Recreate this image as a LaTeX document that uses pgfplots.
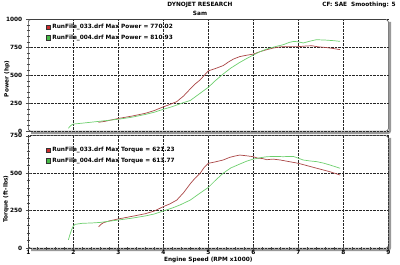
\documentclass[border=0pt]{standalone}
\usepackage{pgfplots}
\pgfplotsset{compat=1.18}
\usepackage{fontspec}
\setmainfont{DejaVu Sans}
\definecolor{runred}{RGB}{170,70,70}
\definecolor{rungreen}{RGB}{110,208,110}
\definecolor{sqred}{RGB}{205,45,45}
\definecolor{sqgreen}{RGB}{70,185,70}
\newcommand{\sz}{\fontsize{5.8}{6.5}\selectfont\bfseries}
\pgfplotsset{dyno/.style={
  scale only axis, width=360pt, xmin=1, xmax=9,
  axis line style={draw=none},
  tick pos=left, tick align=center,
  major tick length=5pt, minor tick length=3pt,
  every tick/.style={black!70, line width=0.4pt},
  grid=major, major grid style={densely dotted, black!85, line width=0.45pt},
  ticklabel style={font=\sz},
  /pgf/number format/assume math mode=true,
  /pgf/number format/1000 sep={},
  label style={font=\sz},
  legend style={draw=none, fill=none, font=\sz, inner sep=0pt, outer sep=0pt,
    row sep=0.6pt, legend cell align=left, anchor=north west, cells={anchor=west}},
},
redsq/.style={legend image code/.code={\draw[draw=black!80,fill=sqred,line width=0.4pt] (0pt,-2.2pt) rectangle (4pt,2.2pt);}},
greensq/.style={legend image code/.code={\draw[draw=black!80,fill=sqgreen,line width=0.4pt] (0pt,-2.2pt) rectangle (4pt,2.2pt);}}}
\begin{document}
\begin{tikzpicture}
\path[use as bounding box] (0pt,0pt) rectangle (400pt,265pt);
% shadows
\draw[black!40, line width=2.4pt, rounded corners=2.5pt] (390pt,243pt) -- (390pt,132pt) -- (31pt,132pt);
\draw[black!40, line width=2.4pt, rounded corners=2.5pt] (390pt,127pt) -- (390pt,15pt) -- (31pt,15pt);
\begin{axis}[dyno, at={(28.3pt,133.8pt)}, anchor=south west, height=111.7pt,
  ymin=0, ymax=1000, ytick={0,250,500,750,1000}, minor y tick num=4,
  xtick={2,...,8}, xticklabels={}, xtick style={/pgfplots/major tick length=0pt},
  ylabel={Power (hp)}, ylabel style={at={(axis description cs:-0.059,0.467)}, anchor=center},
  legend style={at={(axis description cs:0.049,0.975)}}]
\addplot[runred, line width=0.7pt, redsq] coordinates {
(2.56,80)(2.7,88)(3.0,114)(3.3,135)(3.6,160)(3.8,185)(4.0,218)(4.15,240)(4.3,265)(4.45,315)
(4.6,379)(4.7,420)(4.82,460)(5.0,540)(5.15,560)(5.33,587)(5.45,620)(5.56,646)(5.7,668)(5.85,680)
(6.0,690)(6.15,712)(6.3,730)(6.45,745)(6.6,755)(6.8,757)(7.0,757)(7.15,762)(7.3,765)(7.45,755)
(7.6,750)(7.75,742)(7.93,730)};
\addlegendentry{RunFile\_033.drf Max Power = 770.02}
\addplot[rungreen, line width=0.7pt, greensq] coordinates {
(1.89,26)(1.93,45)(1.97,58)(2.0,64)(2.2,72)(2.5,85)(2.8,98)(3.0,107)(3.3,125)(3.6,150)
(3.8,170)(4.0,196)(4.2,220)(4.44,255)(4.6,275)(4.82,340)(5.0,393)(5.15,450)(5.33,512)(5.5,565)
(5.7,616)(5.85,650)(6.0,682)(6.15,712)(6.3,736)(6.5,758)(6.67,775)(6.8,795)(6.9,804)(7.0,800)
(7.11,790)(7.25,805)(7.4,819)(7.6,816)(7.8,810)(7.93,804)};
\addlegendentry{RunFile\_004.drf Max Power = 810.93}
\end{axis}
\begin{axis}[dyno, at={(28.3pt,16.8pt)}, anchor=south west, height=112.5pt,
  ymin=0, ymax=750, ytick={0,250,500,750}, minor y tick num=4,
  xtick={1,...,9}, minor x tick num=4, xticklabel style={yshift=3.8pt},
  ylabel={Torque (ft-lbs)}, ylabel style={at={(axis description cs:-0.062,0.437)}, anchor=center},
  xlabel={Engine Speed (RPM x1000)}, xlabel style={at={(axis description cs:0.5,-0.105)}, anchor=center},
  legend style={at={(axis description cs:0.049,0.915)}}]
\addplot[runred, line width=0.7pt, redsq] coordinates {
(2.56,143)(2.62,160)(2.67,170)(2.8,182)(3.0,195)(3.3,212)(3.6,230)(3.8,248)(4.0,277)(4.15,296)
(4.3,321)(4.45,370)(4.6,430)(4.7,465)(4.82,500)(4.9,535)(5.0,566)(5.15,575)(5.33,588)(5.48,606)
(5.6,615)(5.7,621)(5.85,616)(6.0,610)(6.1,600)(6.2,598)(6.3,590)(6.44,594)(6.6,588)(6.8,577)
(7.0,566)(7.2,550)(7.41,533)(7.55,522)(7.7,510)(7.93,488)};
\addlegendentry{RunFile\_033.drf Max Torque = 621.23}
\addplot[rungreen, line width=0.7pt, greensq] coordinates {
(1.89,55)(1.93,95)(1.96,121)(2.0,148)(2.04,159)(2.2,166)(2.4,168)(2.6,172)(2.8,180)(3.0,188)
(3.3,200)(3.6,215)(3.8,228)(4.0,248)(4.2,268)(4.37,288)(4.6,321)(4.82,368)(5.0,405)(5.15,450)
(5.33,500)(5.5,535)(5.7,561)(5.85,580)(6.0,594)(6.15,603)(6.3,610)(6.5,612)(6.67,610)(6.8,612)
(6.9,611)(7.0,600)(7.11,588)(7.25,582)(7.41,577)(7.55,568)(7.7,555)(7.93,533)};
\addlegendentry{RunFile\_004.drf Max Torque = 613.77}
\end{axis}
\draw[black!75, line width=0.6pt, rounded corners=2.5pt] (28.3pt,133.8pt) rectangle (388.3pt,245.5pt);
\draw[black!75, line width=0.6pt, rounded corners=2.5pt] (28.3pt,16.8pt) rectangle (388.3pt,129.3pt);
\node[font=\sz] at (200pt,260pt) {DYNOJET RESEARCH};
\node[font=\sz] at (200pt,252pt) {Sam};
\node[font=\sz] at (359pt,260pt) {CF: SAE\ \ Smoothing: 5};
\end{tikzpicture}
\end{document}
